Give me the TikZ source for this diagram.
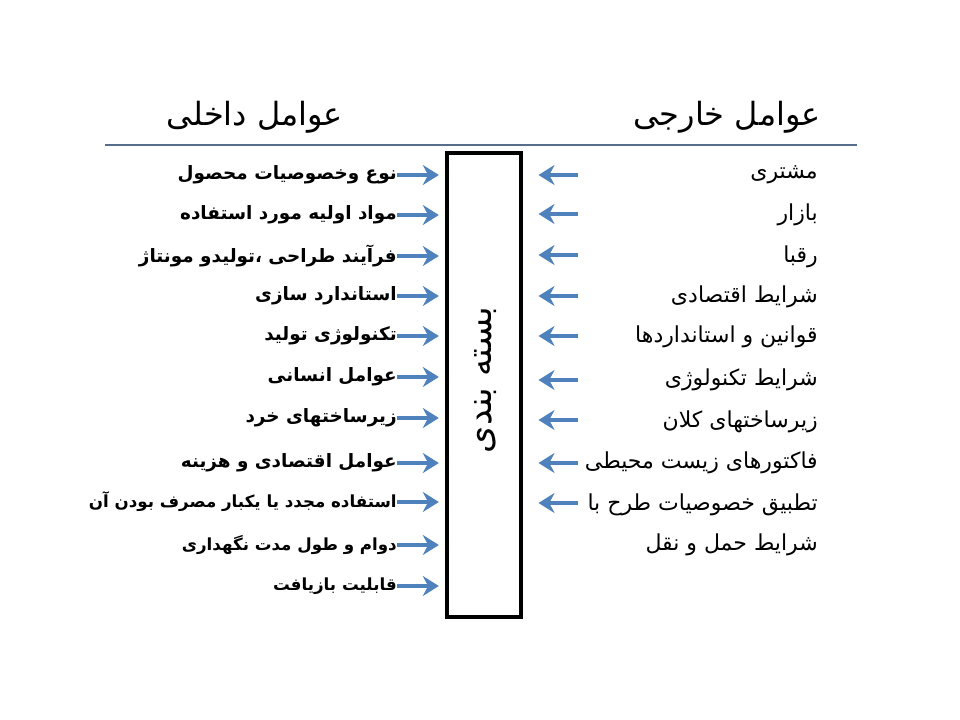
\documentclass[tikz,border=0pt]{standalone}
\usepackage{fontspec}
\newfontfamily\arabicfont[Script=Arabic]{DejaVu Sans}
\TeXXeTstate=1
\usetikzlibrary{arrows.meta}
\definecolor{arrowblue}{RGB}{79,129,189}
\definecolor{rulegray}{RGB}{84,110,140}
\tikzstyle{title}=[font=\arabicfont\fontsize{24}{28}\selectfont]
\tikzstyle{inner}=[anchor=east,inner sep=0pt]
\tikzstyle{outer}=[anchor=east,inner sep=0pt,font=\arabicfont\fontsize{16.5}{19}\selectfont]
\tikzstyle{flow}=[arrowblue,line width=3.6pt,-{Stealth[length=12pt,width=15pt,inset=4pt]}]

\begin{document}
\begin{tikzpicture}[x=0.75pt,y=-0.75pt]
\useasboundingbox (0,0) rectangle (960,720);

  \node[title] (ttlin) at (255,117) {\beginR عوامل داخلی\endR};
  \node[title] (ttlout) at (727,117) {\beginR عوامل خارجی\endR};
  \coordinate (rulel) at (105,145);
  \coordinate (ruler) at (857,145);
  \draw[rulegray, line width=0.8pt] (rulel) -- (ruler);

  \node[draw, line width=2.3pt, minimum width=55.5pt, minimum height=348pt] (box) at (484,385) {};
  \node[rotate=90, font=\arabicfont\fontsize{26}{30}\selectfont] (boxlabel) at (486,380) {\beginR بسته بندی\endR};

%left side
  \foreach \i/\y/\s/\txt in {1/175/13.8/{نوع وخصوصیات محصول}, 2/215/13.8/{مواد اولیه مورد استفاده}, 3/256/13.8/{فرآیند طراحی ،تولیدو مونتاژ}, 4/296/13.8/{استاندارد سازی}, 5/336/13.8/{تکنولوژی تولید}, 6/377/13.8/{عوامل انسانی}, 7/418/13.8/{زیرساختهای خرد}, 8/463/13.8/{عوامل اقتصادی و هزینه}, 9/502/12.5/{استفاده مجدد یا یکبار مصرف بودن آن}, 10/545/12.5/{دوام و طول مدت نگهداری}, 11/586/12.5/{قابلیت بازیافت}}
  {
      \node[inner, font=\arabicfont\bfseries\fontsize{\s}{16}\selectfont] (in\i) at (397,\y) {\beginR\txt\endR};
      \draw[flow, shorten >=5pt] (in\i.east) -- (in\i.east -| box.west);
  }

%right side
  \foreach \i/\y/\txt in {1/175/{مشتری}, 2/215/{بازار}, 3/257/{رقبا}, 4/297/{شرایط اقتصادی}, 5/337/{قوانین و استانداردها}, 6/380/{شرایط تکنولوژی}, 7/422/{زیرساختهای کلان}, 8/463/{فاکتورهای زیست محیطی}, 9/505/{تطبیق خصوصیات طرح با}, 10/545/{شرایط حمل و نقل}}
      \node[outer] (out\i) at (818,\y) {\beginR\txt\endR};

  \foreach \i/\y in {1/175, 2/214, 3/255, 4/296, 5/336, 6/380, 7/420, 8/463, 9/503}
  {
      \coordinate (os\i) at (578,\y);
      \draw[flow, shorten >=12pt] (os\i) -- (os\i -| box.east);
  }

\end{tikzpicture}
\end{document}
